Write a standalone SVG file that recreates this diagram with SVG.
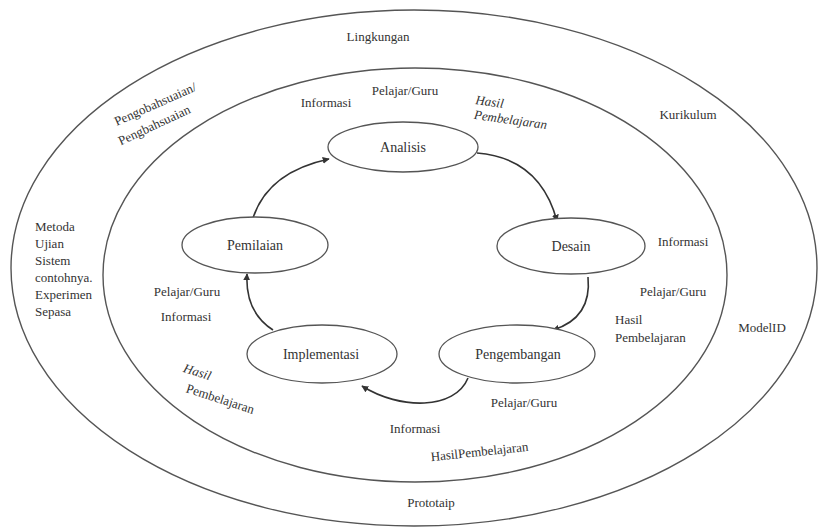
<svg xmlns="http://www.w3.org/2000/svg" width="821" height="529" viewBox="0 0 821 529">
<defs>
<marker id="arr" viewBox="0 0 10 10" refX="9" refY="5" markerWidth="7" markerHeight="7" orient="auto" markerUnits="userSpaceOnUse">
<path d="M0,0 L10,5 L0,10 z" fill="#333"/>
</marker>
<style>
.ring{fill:none;stroke:#555;stroke-width:1.4}
.node{fill:#fff;stroke:#555;stroke-width:1.3}
text{font-family:'Liberation Serif','Times New Roman','DejaVu Serif',serif;fill:#333}
.nt{font-size:14px;text-anchor:middle}
.lb{font-size:13px;text-anchor:middle}
.lbl{font-size:13px}
.it{font-style:italic}
.con{fill:none;stroke:#333;stroke-width:1.6;marker-end:url(#arr)}
</style>
</defs>
<rect width="821" height="529" fill="#fff"/>
<g id="rings">
<ellipse class="ring" cx="414" cy="268" rx="403" ry="258"/>
<ellipse class="ring" cx="415" cy="275" rx="312" ry="207"/>
</g>
<g id="ring-labels">
<text class="lb" x="378" y="41">Lingkungan</text>
<text class="lb" x="688" y="119">Kurikulum</text>
<text class="lb" x="762" y="332">ModelID</text>
<text class="lb" x="431" y="507">Prototaip</text>
<g transform="translate(157,108) rotate(-24)"><text class="lb" x="0" y="0">Pengobahsuaian/</text></g>
<g transform="translate(156,129) rotate(-25)"><text class="lb" x="0" y="0">Pengbahsuaian</text></g>
<text class="lbl" x="35" y="231">Metoda</text>
<text class="lbl" x="35" y="248">Ujian</text>
<text class="lbl" x="35" y="265">Sistem</text>
<text class="lbl" x="35" y="282">contohnya.</text>
<text class="lbl" x="35" y="299">Experimen</text>
<text class="lbl" x="35" y="316">Sepasa</text>
</g>
<g id="connectors">
<path class="con" d="M253,218 Q268,172 329,159"/>
<path class="con" d="M477,153 Q540,158 557,221"/>
<path class="con" d="M588,277 Q592,318 553,330"/>
<path class="con" d="M468,378 C455,410 400,410 362,386"/>
<path class="con" d="M273,330 Q245,312 247,274"/>
</g>
<g id="analisis">
<ellipse class="node" cx="403" cy="147" rx="75" ry="25"/>
<text class="nt" x="403" y="152">Analisis</text>
</g>
<g id="desain">
<ellipse class="node" cx="571" cy="246" rx="74" ry="28"/>
<text class="nt" x="571" y="251">Desain</text>
</g>
<g id="pengembangan">
<ellipse class="node" cx="517" cy="354" rx="78" ry="29"/>
<text class="nt" x="518" y="359">Pengembangan</text>
</g>
<g id="implementasi">
<ellipse class="node" cx="322" cy="354" rx="75" ry="29"/>
<text class="nt" x="321" y="359">Implementasi</text>
</g>
<g id="pemilaian">
<ellipse class="node" cx="255" cy="245" rx="73" ry="28"/>
<text class="nt" x="255" y="250">Pemilaian</text>
</g>
<g id="flow-labels">
<text class="lb" x="326" y="107">Informasi</text>
<text class="lb" x="405" y="95">Pelajar/Guru</text>
<g transform="translate(489,106) rotate(8)"><text class="lb it" x="0" y="0">Hasil</text></g>
<g transform="translate(510,124) rotate(8)"><text class="lb it" x="0" y="0">Pembelajaran</text></g>
<text class="lb" x="683" y="246">Informasi</text>
<text class="lb" x="673" y="296">Pelajar/Guru</text>
<text class="lbl" x="615" y="324">Hasil</text>
<text class="lbl" x="615" y="342">Pembelajaran</text>
<text class="lb" x="187" y="296">Pelajar/Guru</text>
<text class="lb" x="186" y="321">Informasi</text>
<g transform="translate(196,376) rotate(18)"><text class="lb it" x="0" y="0">Hasil</text></g>
<g transform="translate(219,403) rotate(18)"><text class="lb" x="0" y="0">Pembelajaran</text></g>
<text class="lb" x="524" y="407">Pelajar/Guru</text>
<text class="lb" x="415" y="433">Informasi</text>
<g transform="translate(480,456) rotate(-6)"><text class="lb" x="0" y="0">HasilPembelajaran</text></g>
</g>
</svg>
